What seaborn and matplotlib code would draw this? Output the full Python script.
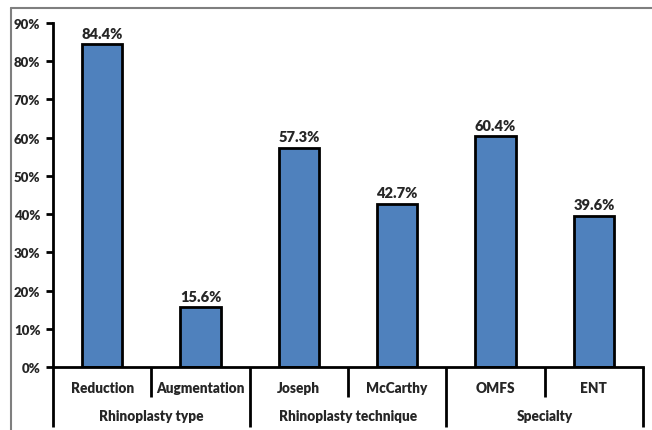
import matplotlib
matplotlib.use("Agg")
import matplotlib.pyplot as plt
import matplotlib.transforms as mtransforms
from matplotlib.lines import Line2D
import seaborn as sns
import pandas as pd

categories = ["Reduction", "Augmentation", "Joseph", "McCarthy", "OMFS", "ENT"]
values = [84.4, 15.6, 57.3, 42.7, 60.4, 39.6]
groups = ["Rhinoplasty type", "Rhinoplasty technique", "Specialty"]
group_sizes = [2, 2, 2]
yticks = [0, 10, 20, 30, 40, 50, 60, 70, 80, 90]

sns.set_style("white")
plt.rcParams['font.family'] = ['Lato', 'DejaVu Sans']
W = 'heavy'

df = pd.DataFrame({"category": categories, "value": values})

fig = plt.figure(figsize=(6.52, 4.31), dpi=100)
ax = fig.add_axes([53/652, 1-368/431, (643-53)/652, (368-24)/431])

sns.barplot(data=df, x="category", y="value", order=categories, color="#4F81BD",
            saturation=1, width=0.41, edgecolor="black", linewidth=2, ax=ax)

ax.set_xlim(-0.5, len(categories)-0.5)
ax.set_ylim(0, 90)
ax.set_yticks(yticks)
ax.set_yticklabels([f"{t}%" for t in yticks], fontsize=9.5, fontweight=W)
ax.set_xticks([])
ax.set_xlabel("")
ax.set_ylabel("")
for s in ["top", "right"]:
    ax.spines[s].set_visible(False)
for s in ["left", "bottom"]:
    ax.spines[s].set_linewidth(2)
    ax.spines[s].set_color("black")
ax.tick_params(axis='y', direction='out', length=5, width=2, color='black', pad=4, left=True)

for i, v in enumerate(values):
    ax.text(i, v + 1.2, f"{v:.1f}%", ha='center', va='bottom', fontsize=10.5, fontweight=W)

trans = mtransforms.blended_transform_factory(ax.transData, ax.transAxes)
inner_y = -30/344
outer_y = -60/344
for i, c in enumerate(categories):
    ax.text(i, -21/344, c, transform=trans, ha='center', va='center', fontsize=9.8, fontweight=W)
bounds = [-0.5]
for gsize in group_sizes:
    bounds.append(bounds[-1] + gsize)
for b in bounds:
    ax.plot([b, b], [0, outer_y], transform=trans, color='black', lw=2, clip_on=False, solid_capstyle='butt')
for gi, gsize in enumerate(group_sizes):
    for k in range(1, gsize):
        b = bounds[gi] + k
        ax.plot([b, b], [0, inner_y], transform=trans, color='black', lw=2, clip_on=False, solid_capstyle='butt')
    center = (bounds[gi] + bounds[gi+1]) / 2
    ax.text(center, -49/344, groups[gi], transform=trans, ha='center', va='center', fontsize=9.8, fontweight=W)

fig.add_artist(Line2D([11/652, 11/652], [0, 1-8.5/431], transform=fig.transFigure, color='#7f7f7f', lw=1.5))
fig.add_artist(Line2D([11/652, 1], [1-8.5/431, 1-8.5/431], transform=fig.transFigure, color='#7f7f7f', lw=1.5))

fig.savefig("out.png", dpi=100)
